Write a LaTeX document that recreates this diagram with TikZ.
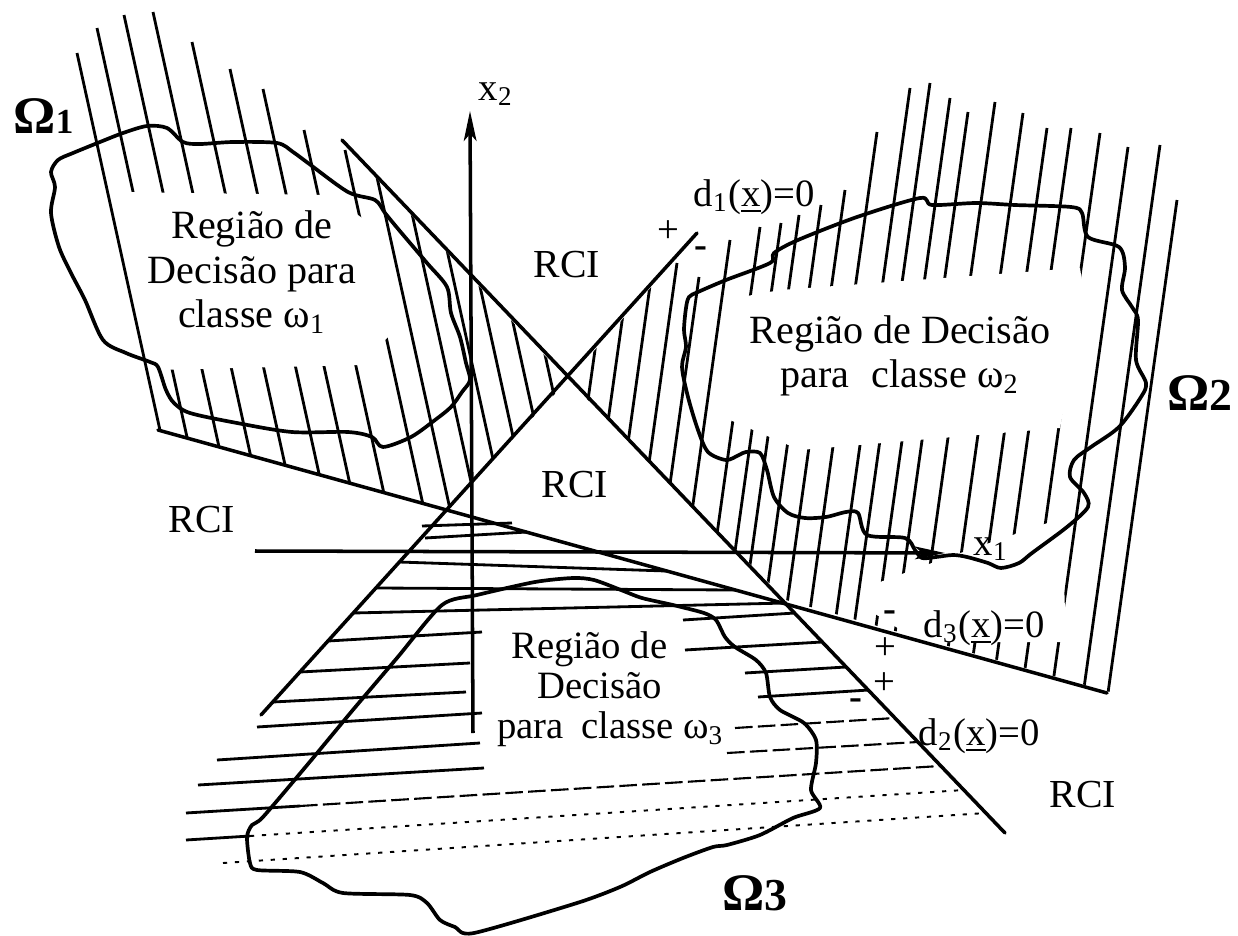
\documentclass[tikz,border=0pt]{standalone}
\usepackage{fontspec}
\setmainfont{Liberation Serif}
\usetikzlibrary{arrows.meta}
\begin{document}
\begin{tikzpicture}[x=0.01cm,y=-0.01cm,
  mainline/.style={line width=1pt, line cap=round},
  hatch/.style={line width=0.8pt},
  hatchdash/.style={line width=0.6pt, dash pattern=on 5pt off 1.5pt},
  hatchdot/.style={line width=0.55pt, dash pattern=on 1.2pt off 2.2pt},
  blob/.style={line width=1.05pt, line join=round},
  axis/.style={line width=1pt, -{Stealth[length=8.5pt,width=3.6pt,inset=2pt]}},
  gap/.style={fill=white, draw=none},
  body/.style={font=\fontsize{11.4}{12.66}\selectfont, align=center, inner sep=0pt},
  lab/.style={font=\fontsize{11}{13}\selectfont, inner sep=0pt, anchor=base west},
  rci/.style={font=\fontsize{11.3}{13}\selectfont, inner sep=0pt, anchor=base},
  omg/.style={font=\bfseries\fontsize{15}{17}\selectfont, inner sep=0pt, anchor=base west},
  sign/.style={font=\fontsize{11}{12}\selectfont, inner sep=0pt},
]
\useasboundingbox (0,0) rectangle (1238,936);

% ---------- hatching omega 1 ----------
\begin{scope}
\clip (-100,-100) -- (112,-100) -- (568,380) -- (446,510) -- (158,430) -- (-100,358) -- cycle;
\foreach \xt/\yt in {77/53, 97/28, 124/15, 153/12, 192/42, 230/69, 263/89, 304/130, 345/150,
   316/-100, 343/-100, 370/-100, 395/-100, 420/-100, 445/-100}
  \draw[hatch] (\xt,\yt) -- ++(176,800);
\end{scope}

% ---------- hatching omega 2 ----------
\begin{scope}
\clip (568,380) -- (998,-100) -- (1300,-100) -- (1300,746) -- (786,600) -- cycle;
\foreach \xt/\yt in {658/-100, 681/-100, 704/-100, 677/263, 699/277, 730/240, 760/227, 781/223,
   799/215, 821/205, 845/190, 877/132, 910/88, 930/83, 950/98, 968/112, 995/102, 1023/113,
   1047/128, 1071/128, 1100/133, 1128/147, 1160/145, 1177/200}
  \draw[hatch] (\xt,\yt) -- ++(-112,800);
\end{scope}

% ---------- hatching omega 3 ----------
\draw[hatch] (422,526) -- (512,523);
\draw[hatch] (425,538) -- (527,532);
\draw[hatch] (399,562) -- (666,571);
\draw[hatch] (376,588) -- (735,590);
\draw[hatch] (353,613) -- (787,603);
\draw[hatch] (328,641) -- (482,632);  \draw[hatch] (683,620) -- (795,613);
\draw[hatch] (300,672) -- (470,663);  \draw[hatch] (685,650) -- (822,642);
\draw[hatch] (273,702) -- (466,692);  \draw[hatch] (745,673) -- (846,667);
\draw[hatch] (257,727) -- (482,713);  \draw[hatch] (758,697) -- (869,690);
\draw[hatch] (217,760) -- (480,743);  \draw[hatchdash] (735,728) -- (895,718);
\draw[hatch] (198,785) -- (484,768);  \draw[hatchdash] (727,753) -- (918,742);
\draw[hatch] (186,813) -- (300,806);  \draw[hatchdash] (300,806) -- (940,766);
\draw[hatch] (186,840) -- (250,836);  \draw[hatchdot] (250,836) -- (964,790);
\draw[hatchdot] (223,863) -- (986,813);

% ---------- gaps in hatching ----------
\fill[gap] (122,192) -- (330,195) -- (372,225) -- (395,330) -- (360,365) -- (155,370) -- cycle;
\fill[gap] (725,300) -- (780,290) -- (1080,268) -- (1085,300) -- (1060,428) -- (800,450) -- (730,420) -- cycle;
\fill[gap] (872,585) -- (940,560) -- (1062,518) -- (1066,642) -- (920,642) -- (872,612) -- cycle;

% ---------- blobs ----------
\draw[blob] plot[smooth cycle, tension=0.5] coordinates {
 (51,172) (58,160) (73,153) (100,142) (123,133) (147,126) (167,128) (183,142) (200,144)
 (233,142) (277,143) (293,152) (308,163) (348,192) (375,200) (385,213) (399,230) (427,263)
 (447,287) (451,313) (460,337) (466,363) (470,380) (462,392) (451,407) (435,420) (411,437)
 (383,447) (372,437) (348,432) (292,432) (237,423) (190,413) (174,403) (166,390) (158,367)
 (150,362) (126,353) (103,340) (85,300) (71,273) (59,247) (51,213) (55,187)};
\draw[blob] plot[smooth cycle, tension=0.5] coordinates {
 (686,308) (689,297) (698,292) (726,280) (770,263) (774,253) (798,240) (857,217) (920,198)
 (932,205) (976,203) (1015,205) (1071,207) (1082,213) (1088,237) (1119,247) (1125,267)
 (1122,290) (1132,307) (1138,320) (1136,360) (1146,383) (1141,397) (1119,427) (1091,447)
 (1074,460) (1070,477) (1084,493) (1088,507) (1067,527) (1032,553) (1019,563) (1001,568)
 (988,563) (967,557) (953,555) (936,557) (922,558) (915,550) (905,538) (867,535) (858,513)
 (846,512) (826,517) (805,518) (788,513) (774,497) (767,470) (760,453) (746,452) (739,455)
 (726,460) (708,452) (698,430) (688,397) (682,367) (686,347) (684,330)};
\draw[blob] plot[smooth cycle, tension=0.45] coordinates {
 (442,605) (477,595) (535,582) (573,578) (594,580) (621,590) (642,598) (673,605) (704,613)
 (716,620) (725,637) (735,647) (756,660) (766,673) (770,697) (780,710) (804,723) (816,740)
 (816,763) (811,790) (820,808) (793,818) (760,835) (727,845) (713,847) (683,858) (650,872)
 (620,887) (577,903) (474,933) (455,927) (440,920) (427,903) (410,895) (343,893) (323,883)
 (300,872) (257,870) (250,863) (247,837) (252,825) (263,817) (308,764) (352,711) (397,658)};

% ---------- decision lines ----------
\coordinate (d1a) at (261,715); \coordinate (d1b) at (697,233);
\coordinate (d2a) at (342,140); \coordinate (d2b) at (1005,833);
\coordinate (d3a) at (158,430); \coordinate (d3b) at (1107,693);
\draw[mainline] (d1a) -- (d1b);
\draw[mainline] (d2a) -- (d2b);
\draw[mainline] (d3a) -- (d3b);

% ---------- axes ----------
\coordinate (x1s) at (255,551); \coordinate (x1e) at (945,553);
\coordinate (x2s) at (473,733); \coordinate (x2e) at (470,111);
\draw[axis] (x1s) -- (x1e);
\draw[axis] (x2s) -- (x2e);

% ---------- texts ----------
\node[body] (t1) at (252,272) {Região de\\Decisão para\\classe ω\textsubscript{1}};
\node[body] (t2) at (900,356) {Região de Decisão\\para\hspace{0.3em} classe ω\textsubscript{2}};
\node[body, font=\fontsize{11}{11.4}\selectfont] (t3) at (600,689)
  {Região de\hspace*{0.55em}\\Decisão\hspace*{0.25em}\\\hspace*{0.55em}para\hspace{0.2em} classe ω\textsubscript{3}};

\node[rci] (r1) at (567,277) {RCI};
\node[rci] (r2) at (575,497) {RCI};
\node[rci] (r3) at (202,532) {RCI};
\node[rci] (r4) at (1083,807) {RCI};

\node[omg] (o1) at (13,133) {Ω{\fontsize{10}{12}\selectfont 1}};
\node[omg] (o2) at (1167,410) {Ω{\fontsize{13}{14}\selectfont 2}};
\node[omg] (o3) at (722,910) {Ω{\fontsize{13}{14}\selectfont 3}};

\node[lab] (lx2) at (478,100) {x\textsubscript{2}};
\node[lab] (lx1) at (973,555) {x\textsubscript{1}};
\node[lab] (ld1) at (693,206) {d\textsubscript{1}(\underline{x})=0};
\node[lab] (ld3) at (923,637) {d\textsubscript{3}(\underline{x})=0};
\node[lab] (ld2) at (918,745) {d\textsubscript{2}(\underline{x})=0};

\node[sign] (p1) at (668,232) {+};
\node[sign] (m1) at (701,252) {\textbf{-}};
\node[sign] (m3) at (890,616) {\textbf{-}};
\node[sign] (p3) at (885,649) {+};
\node[sign] (p2) at (884,684) {+};
\node[sign] (m2) at (856,704) {\textbf{-}};
\end{tikzpicture}
\end{document}
